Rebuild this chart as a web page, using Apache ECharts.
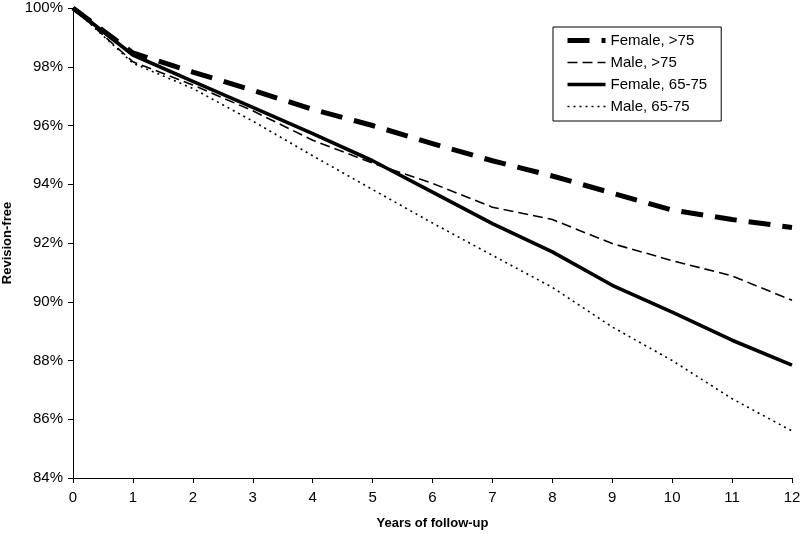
<!DOCTYPE html>
<html><head><meta charset="utf-8">
<script src="https://cdn.jsdelivr.net/npm/echarts@6/dist/echarts.min.js"></script>
<style>html,body{margin:0;padding:0;background:#fff}#c{width:800px;height:534px}</style>
</head><body><div id="c"></div>
<script>
const years = [0,1,2,3,4,5,6,7,8,9,10,11,12];
const femaleOver75 = [100,98.47,97.82,97.2,96.55,96.0,95.38,94.8,94.28,93.7,93.12,92.8,92.53];
const maleOver75 = [100,98.17,97.38,96.5,95.5,94.72,94.03,93.22,92.8,91.98,91.4,90.88,90.05];
const female6575 = [100,98.4,97.5,96.62,95.72,94.8,93.73,92.66,91.7,90.56,89.65,88.69,87.84];
const male6575 = [100,98.12,97.26,96.15,94.97,93.82,92.68,91.58,90.49,89.14,88.0,86.7,85.6];
const seriesNames = ['Female, >75','Male, >75','Female, 65-75','Male, 65-75'];
const yTicks = {min:84,max:100,step:2};
const xTicks = {min:0,max:12,step:1};

const font = 'Liberation Sans, Arial, sans-serif';
const pair = arr => years.map((x,i)=>[x,arr[i]]);
const styles = [
  {width:5, type:[22,12]},
  {width:1.6, type:[10,5]},
  {width:3.6, type:'solid'},
  {width:1.6, type:[2,4]}
];
const data = [femaleOver75, maleOver75, female6575, male6575];
const chart = echarts.init(document.getElementById('c'), null, {renderer:'canvas'});
chart.setOption({
  animation:false,
  backgroundColor:'#fff',
  grid:{left:73,right:8,top:8,bottom:56,containLabel:false,outerBoundsMode:'none'},
  legend:{
    orient:'vertical', left:553, top:27,
    backgroundColor:'#fff', borderColor:'#000', borderWidth:1,
    padding:[6,14,7,12], itemGap:7, itemWidth:38, itemHeight:14,
    itemStyle:{color:'rgba(0,0,0,0)', borderWidth:0, opacity:0},
    lineStyle:{width:'inherit', type:'inherit', color:'inherit'},
    textStyle:{fontFamily:font,fontSize:15,color:'#000'},
    data:seriesNames
  },
  xAxis:{
    type:'value', min:xTicks.min, max:xTicks.max, interval:xTicks.step,
    name:'Years of follow-up', nameLocation:'middle', nameGap:39,
    nameTextStyle:{fontFamily:font,fontSize:13,fontWeight:'bold',color:'#000'},
    axisLine:{lineStyle:{color:'#000',width:1}},
    axisTick:{show:true,inside:false,length:5,lineStyle:{color:'#000'}},
    axisLabel:{fontFamily:font,fontSize:15,color:'#000',margin:12},
    splitLine:{show:false}
  },
  yAxis:{
    type:'value', min:yTicks.min, max:yTicks.max, interval:yTicks.step,
    name:'Revision-free', nameLocation:'middle', nameGap:54, nameRotate:90,
    nameTextStyle:{fontFamily:font,fontSize:13,fontWeight:'bold',color:'#000'},
    axisLine:{show:true,lineStyle:{color:'#000',width:1}},
    axisTick:{show:true,inside:false,length:5,lineStyle:{color:'#000'}},
    axisLabel:{fontFamily:font,fontSize:15,color:'#000',margin:10,formatter:'{value}%'},
    splitLine:{show:false}
  },
  series: seriesNames.map((n,i)=>({
    name:n, type:'line', data:pair(data[i]), showSymbol:false, symbol:'none',
    z: 10-i,
    lineStyle:{color:'#000', width:styles[i].width, type:styles[i].type, cap:'butt', join:'round'},
    itemStyle:{color:'#000'}
  }))
});
</script></body></html>
